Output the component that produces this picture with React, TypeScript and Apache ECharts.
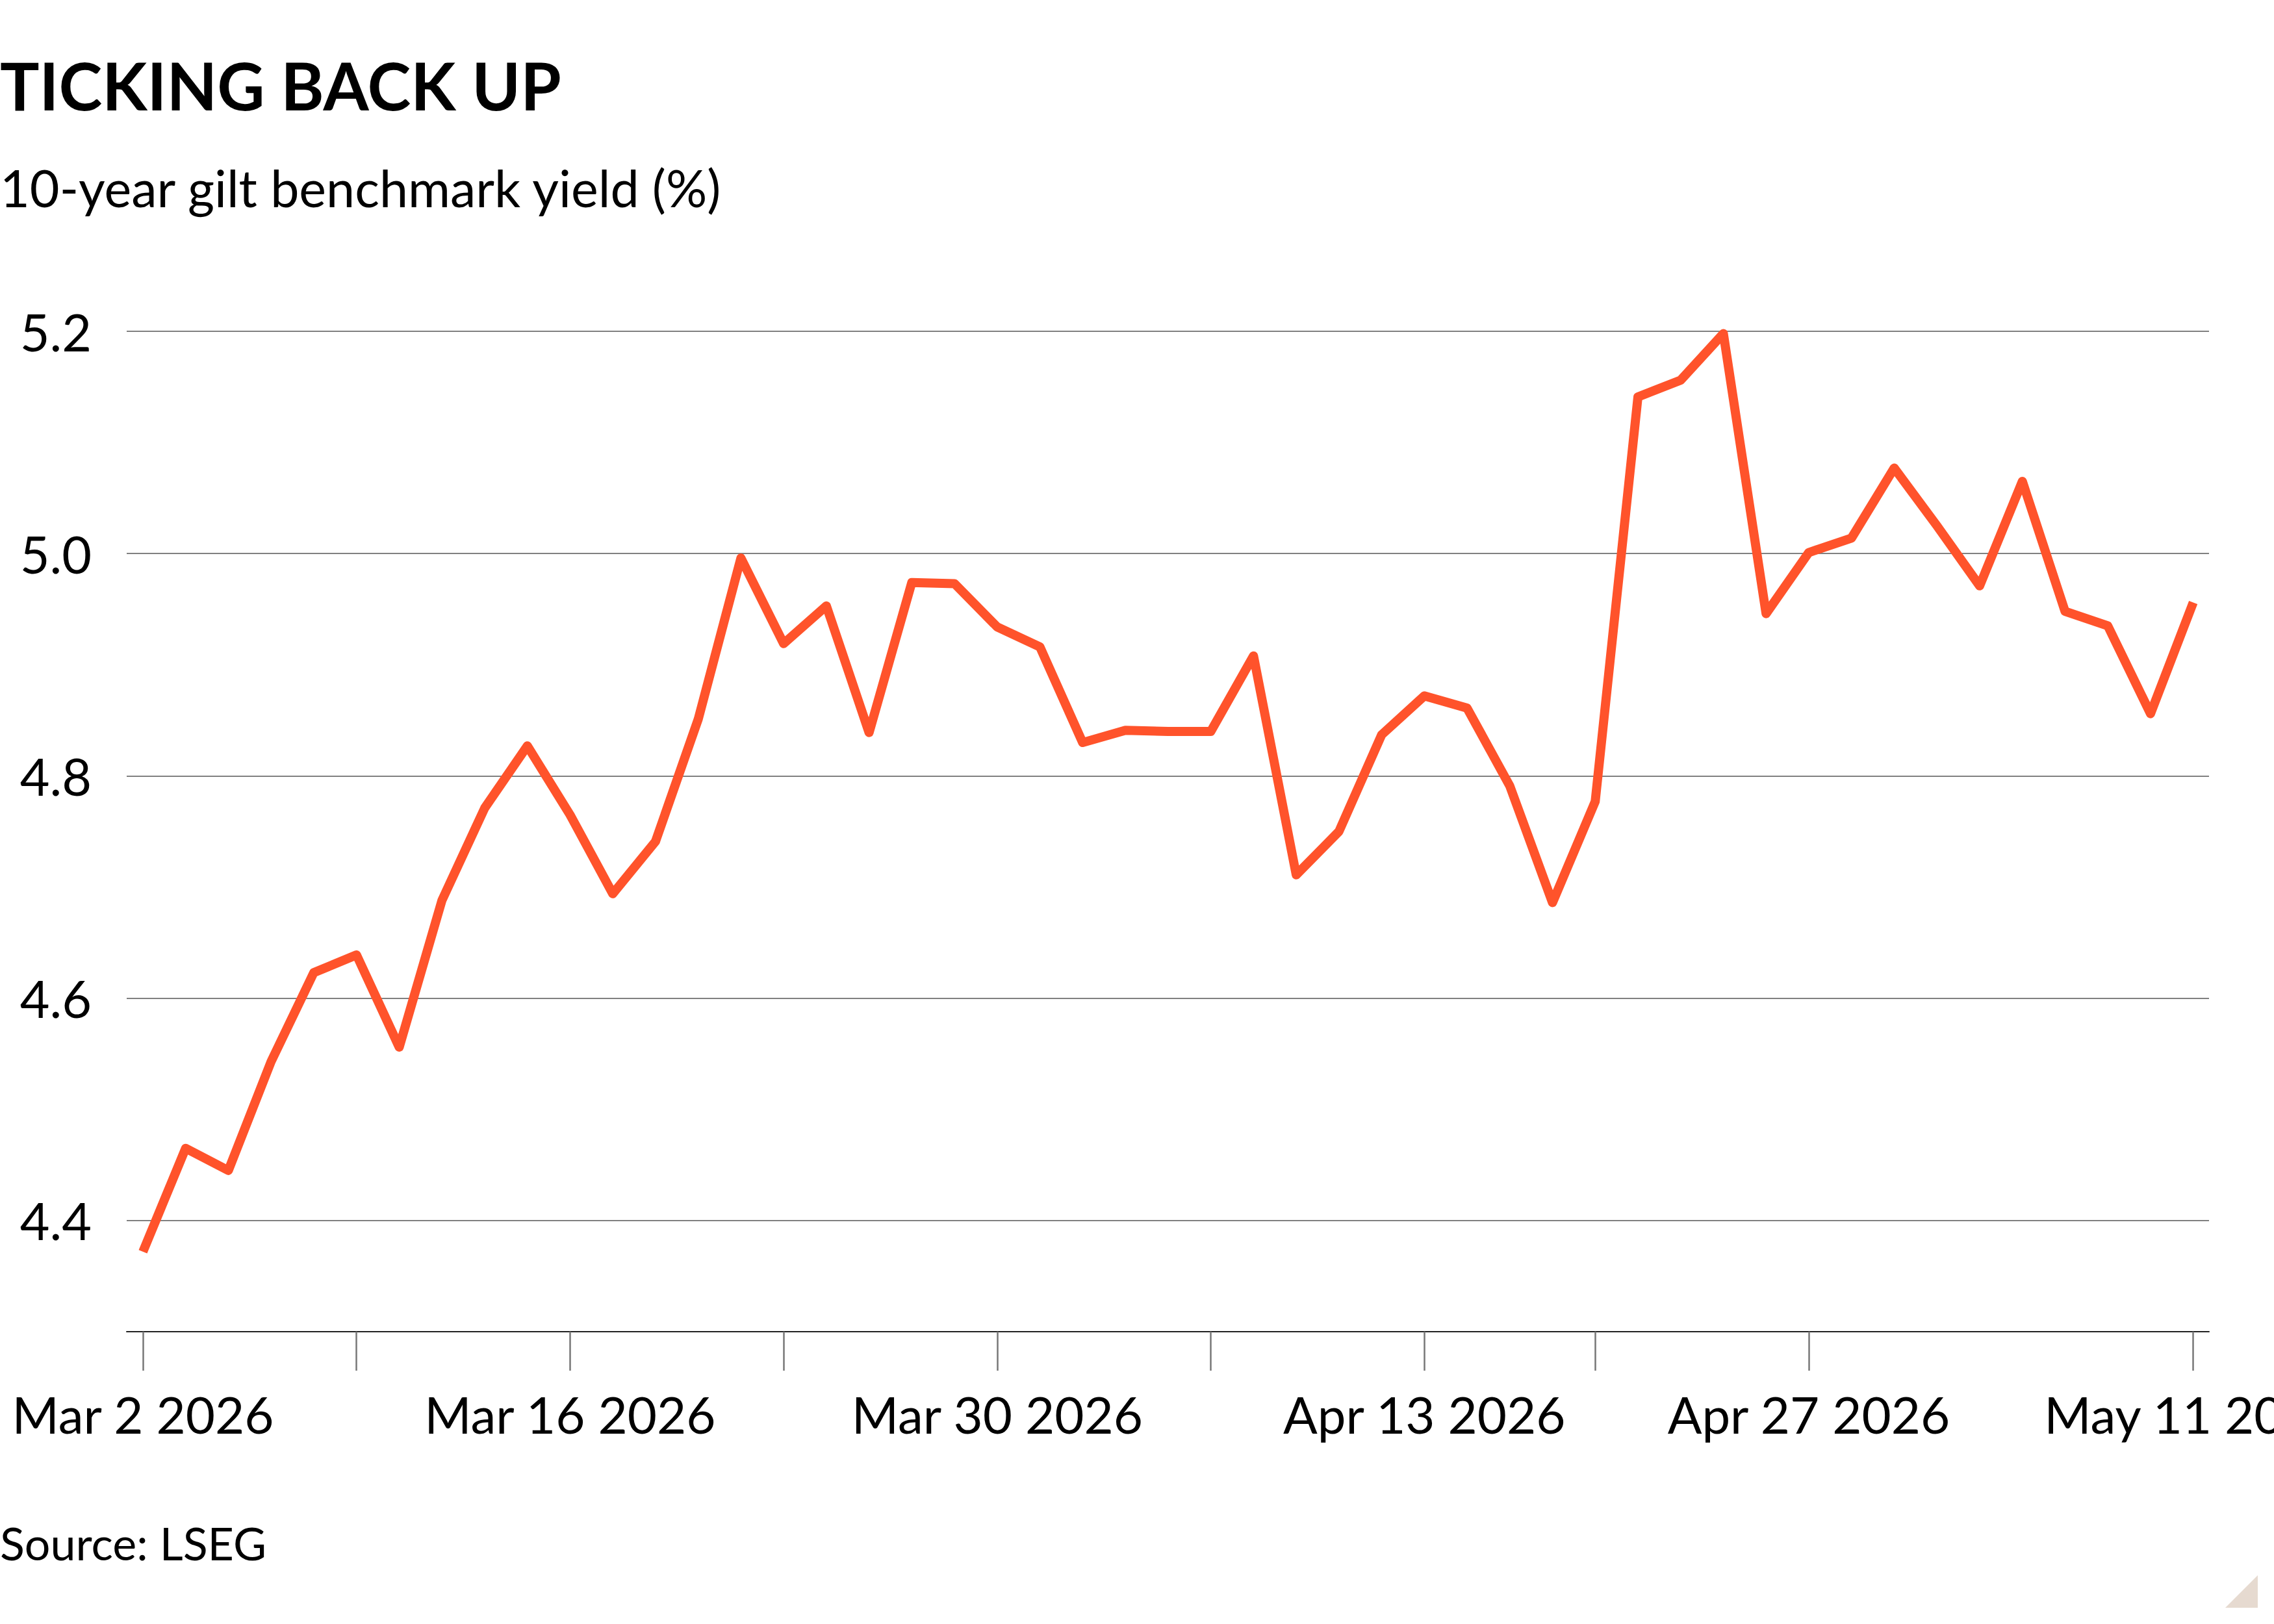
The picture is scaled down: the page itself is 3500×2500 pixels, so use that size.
import { useEffect, useRef } from 'react'
import * as echarts from 'echarts'

// trading days shown on the chart (category labels)
const DATES = [
  'Mar 2 2026', 'Mar 3 2026', 'Mar 4 2026', 'Mar 5 2026', 'Mar 6 2026',
  'Mar 9 2026', 'Mar 10 2026', 'Mar 11 2026', 'Mar 12 2026', 'Mar 13 2026',
  'Mar 16 2026', 'Mar 17 2026', 'Mar 18 2026', 'Mar 19 2026', 'Mar 20 2026',
  'Mar 23 2026', 'Mar 24 2026', 'Mar 25 2026', 'Mar 26 2026', 'Mar 27 2026',
  'Mar 30 2026', 'Mar 31 2026', 'Apr 1 2026', 'Apr 2 2026', 'Apr 3 2026',
  'Apr 6 2026', 'Apr 7 2026', 'Apr 8 2026', 'Apr 9 2026', 'Apr 10 2026',
  'Apr 13 2026', 'Apr 14 2026', 'Apr 15 2026', 'Apr 16 2026',
  'Apr 20 2026', 'Apr 21 2026', 'Apr 22 2026', 'Apr 23 2026', 'Apr 24 2026',
  'Apr 27 2026', 'Apr 28 2026', 'Apr 29 2026', 'Apr 30 2026', 'May 1 2026',
  'May 5 2026', 'May 6 2026', 'May 7 2026', 'May 8 2026',
  'May 11 2026',
]

// 10-year gilt yield, %
const YIELDS = [
  4.372, 4.465, 4.445, 4.543, 4.623,
  4.639, 4.556, 4.688, 4.771, 4.827,
  4.765, 4.694, 4.741, 4.851, 4.996,
  4.919, 4.953, 4.839, 4.974, 4.973,
  4.934, 4.916, 4.830, 4.841, 4.840,
  4.840, 4.908, 4.711, 4.750, 4.837,
  4.872, 4.861, 4.791, 4.686,
  4.777, 5.141, 5.156, 5.198, 4.946,
  5.001, 5.014, 5.077, 5.025, 4.971,
  5.065, 4.948, 4.935, 4.856,
  4.956,
]

// weekly tick marks (Mondays) and the fortnightly labels
const TICK_DATES = [
  'Mar 2 2026', 'Mar 9 2026', 'Mar 16 2026', 'Mar 23 2026', 'Mar 30 2026',
  'Apr 6 2026', 'Apr 13 2026', 'Apr 20 2026', 'Apr 27 2026', 'May 11 2026',
]
const LABEL_DATES = ['Mar 2 2026', 'Mar 16 2026', 'Mar 30 2026', 'Apr 13 2026', 'Apr 27 2026', 'May 11 2026']

const Y_MIN = 4.3
const Y_MAX = 5.2

const FONT = 'Lato, "Noto Sans", sans-serif'

export default function App() {
  const chartRef = useRef<HTMLDivElement>(null)

  useEffect(() => {
    if (!chartRef.current) return
    const chart = echarts.init(chartRef.current, null, { renderer: 'svg' })

    const tickIdx = TICK_DATES.map((d) => DATES.indexOf(d))
    const labelIdx = LABEL_DATES.map((d) => DATES.indexOf(d))

    const option: echarts.EChartsOption = {
      animation: false,
      backgroundColor: '#fff',
      textStyle: { fontFamily: FONT },
      grid: { left: 195, right: 100, top: 510, bottom: 450, outerBoundsMode: 'none' } as any,
      xAxis: {
        type: 'value',
        min: -0.38,
        max: DATES.length - 1 + 0.37,
        axisLine: { show: true, lineStyle: { color: '#222', width: 2 } },
        axisTick: {
          show: true,
          length: 60,
          customValues: tickIdx,
          lineStyle: { color: '#777', width: 2.5 },
        },
        axisLabel: {
          customValues: labelIdx,
          formatter: (v: number) => DATES[Math.round(v)] ?? '',
          fontSize: 78,
          color: '#000',
          fontFamily: FONT,
          margin: 88,
        },
        splitLine: { show: false },
      } as any,
      yAxis: {
        type: 'value',
        min: Y_MIN,
        max: Y_MAX,
        interval: 0.1,
        axisLine: { show: false },
        axisTick: { show: false },
        axisLabel: {
          formatter: (v: number) => (Math.round(v * 10) % 2 === 0 ? v.toFixed(1) : ''),
          fontSize: 79,
          color: '#000',
          fontFamily: FONT,
          margin: 54,
        },
        splitLine: {
          show: true,
          lineStyle: { color: ['rgba(0,0,0,0)', '#808080'], width: 2 },
        },
      },
      series: [
        {
          type: 'line',
          data: YIELDS.map((v, i) => [i, v]),
          symbol: 'none',
          lineStyle: { color: '#FF532B', width: 14, join: 'round', cap: 'butt' },
          z: 3,
        } as any,
      ],
      graphic: [
        {
          type: 'text',
          left: 0,
          top: 80,
          style: {
            text: 'TICKING BACK UP',
            font: `bold 101px ${FONT}`,
            fill: '#000',
          },
        },
        {
          type: 'text',
          left: 0,
          top: 249,
          style: {
            text: '10-year gilt benchmark yield (%)',
            font: `79px ${FONT}`,
            fill: '#000',
          },
        },
        {
          type: 'text',
          left: 0,
          top: 2340,
          style: {
            text: 'Source: LSEG',
            font: `70px ${FONT}`,
            fill: '#000',
          },
        },
        {
          type: 'polygon',
          shape: { points: [[3475, 2425], [3475, 2475], [3425, 2475]] },
          style: { fill: '#E6DAD0' },
        },
      ],
    }

    chart.setOption(option)
    return () => chart.dispose()
  }, [])

  return (
    <div
      ref={chartRef}
      style={{ position: 'fixed', left: 0, top: 0, width: 3500, height: 2500, background: '#fff' }}
    />
  )
}
